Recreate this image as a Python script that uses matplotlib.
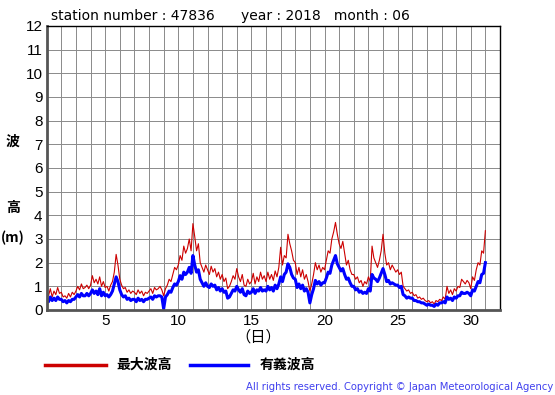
import numpy as np
import matplotlib
matplotlib.use("Agg")
import matplotlib.pyplot as plt
from matplotlib.lines import Line2D

plt.rcParams['font.family'] = ['DejaVu Sans', 'Noto Sans CJK JP']

# 3-hourly values, 8 per day, June 1 .. June 30, plus end point (day 31 00h)
max_wave = [
    0.85, 0.6, 0.9, 0.55, 0.8, 0.65, 0.95, 0.7,      # 1
    0.75, 0.55, 0.6, 0.5, 0.7, 0.55, 0.75, 0.65,     # 2
    0.8, 1.0, 0.85, 1.1, 0.9, 0.95, 1.05, 0.9,       # 3
    1.05, 1.45, 1.15, 1.3, 1.1, 1.4, 1.0, 1.2,       # 4
    0.95, 1.0, 0.8, 1.05, 1.2, 1.6, 2.35, 1.9,       # 5
    1.3, 1.05, 0.9, 0.95, 0.75, 0.85, 0.7, 0.8,      # 6
    0.75, 0.65, 0.85, 0.7, 0.8, 0.6, 0.75, 0.7,      # 7
    0.8, 0.9, 0.7, 0.95, 0.85, 0.9, 1.0, 0.85,       # 8
    0.6, 0.9, 1.05, 1.3, 1.2, 1.5, 1.8, 1.7,         # 9
    1.9, 2.3, 2.1, 2.7, 2.4, 2.6, 3.0, 2.5,          # 10
    3.65, 3.1, 2.5, 2.8, 2.0, 1.8, 1.6, 1.9,         # 11
    1.7, 1.5, 1.85, 1.6, 1.75, 1.4, 1.6, 1.3,        # 12
    1.5, 1.2, 1.35, 0.9, 1.0, 1.2, 1.45, 1.3,        # 13
    1.75, 1.4, 1.2, 1.5, 1.05, 1.0, 1.3, 1.1,        # 14
    1.2, 1.55, 1.1, 1.4, 1.2, 1.6, 1.3, 1.45,        # 15
    1.2, 1.6, 1.3, 1.5, 1.25, 1.65, 1.4, 1.8,        # 16
    2.65, 1.9, 2.3, 2.2, 3.2, 2.8, 2.5, 2.1,         # 17
    2.0, 1.5, 1.8, 1.4, 1.7, 1.3, 1.5, 1.2,          # 18
    0.8, 1.1, 1.5, 2.0, 1.7, 1.9, 1.6, 1.8,          # 19
    1.7, 2.1, 2.5, 2.4, 3.0, 3.3, 3.7, 3.2,          # 20
    2.8, 2.6, 2.9, 2.4, 1.9, 2.1, 1.7, 1.5,          # 21
    1.5, 1.3, 1.4, 1.15, 1.25, 1.0, 1.2, 1.1,        # 22
    1.4, 1.2, 2.7, 2.2, 2.0, 1.8, 2.1, 2.5,          # 23
    3.2, 2.4, 1.9, 2.0, 1.7, 1.9, 1.75, 1.6,         # 24
    1.7, 1.5, 1.6, 1.0, 0.9, 0.8, 0.85, 0.7,         # 25
    0.75, 0.6, 0.65, 0.5, 0.55, 0.45, 0.5, 0.4,      # 26
    0.35, 0.4, 0.3, 0.35, 0.25, 0.4, 0.35, 0.45,     # 27
    0.4, 0.55, 0.45, 1.0, 0.7, 0.85, 0.65, 0.9,      # 28
    0.8, 1.0, 0.95, 1.3, 1.2, 1.1, 1.25, 1.15,       # 29
    0.9, 1.4, 1.25, 1.7, 2.0, 1.9, 2.5, 2.4,         # 30
    3.35,
]
sig_wave = [
    0.5, 0.35, 0.55, 0.4, 0.5, 0.4, 0.55, 0.45,
    0.45, 0.35, 0.4, 0.3, 0.4, 0.35, 0.45, 0.45,
    0.55, 0.65, 0.55, 0.7, 0.6, 0.6, 0.7, 0.6,
    0.7, 0.85, 0.7, 0.8, 0.65, 0.9, 0.6, 0.75,
    0.6, 0.65, 0.55, 0.65, 0.8, 1.1, 1.4, 1.2,
    0.85, 0.65, 0.55, 0.6, 0.45, 0.5, 0.4, 0.45,
    0.45, 0.35, 0.5, 0.4, 0.45, 0.35, 0.45, 0.45,
    0.5, 0.55, 0.45, 0.6, 0.55, 0.6, 0.6, 0.55,
    0.05, 0.55, 0.65, 0.8, 0.75, 0.95, 1.1, 1.05,
    1.2, 1.45, 1.3, 1.6, 1.5, 1.6, 1.8, 1.55,
    2.3, 1.9, 1.6, 1.7, 1.3, 1.15, 1.0, 1.15,
    1.0, 0.95, 1.1, 1.0, 1.05, 0.85, 0.95, 0.8,
    0.9, 0.75, 0.8, 0.5, 0.55, 0.7, 0.85, 0.8,
    1.0, 0.85, 0.75, 0.9, 0.65, 0.6, 0.8, 0.7,
    0.75, 0.9, 0.7, 0.85, 0.8, 0.95, 0.8, 0.85,
    0.8, 1.0, 0.85, 0.95, 0.8, 1.05, 0.9, 1.1,
    1.4, 1.2, 1.5, 1.6, 1.95, 1.8, 1.5, 1.35,
    1.3, 0.95, 1.1, 0.9, 1.05, 0.8, 0.9, 0.75,
    0.3, 0.65, 0.9, 1.25, 1.1, 1.2, 1.05, 1.15,
    1.15, 1.35, 1.6, 1.55, 1.9, 2.1, 2.3, 1.95,
    1.8, 1.65, 1.75, 1.5, 1.3, 1.35, 1.15, 1.0,
    1.0, 0.85, 0.9, 0.75, 0.8, 0.7, 0.75, 0.7,
    0.9, 0.8, 1.5, 1.35, 1.3, 1.2, 1.35, 1.55,
    1.75, 1.5, 1.2, 1.25, 1.1, 1.15, 1.1, 1.05,
    1.05, 0.95, 1.0, 0.65, 0.6, 0.5, 0.55, 0.5,
    0.5, 0.4, 0.4, 0.35, 0.35, 0.3, 0.3, 0.25,
    0.2, 0.25, 0.2, 0.2, 0.15, 0.25, 0.2, 0.3,
    0.3, 0.35, 0.3, 0.55, 0.45, 0.5, 0.4, 0.55,
    0.5, 0.6, 0.6, 0.75, 0.7, 0.7, 0.75, 0.7,
    0.6, 0.85, 0.8, 1.0, 1.2, 1.15, 1.5, 1.55,
    2.0,
]
days = 1 + np.arange(len(max_wave)) / 8.0

x_ticks = [5, 10, 15, 20, 25, 30]
y_ticks = list(range(0, 13))

fig = plt.figure(figsize=(5.55, 3.95), dpi=100)
ax = fig.add_axes([0.0841, 0.2152, 0.8168, 0.7190])

ax.plot(days, max_wave, color="#cc0000", lw=0.8)
ax.plot(days, sig_wave, color="#0000ff", lw=2.2)

ax.set_xlim(1, 32)
ax.set_ylim(0, 12)
ax.set_xticks(np.arange(1, 33), minor=True)
ax.set_xticks(x_ticks)
ax.set_yticks(y_ticks)
ax.grid(True, which="both", color="#8a8a8a", lw=0.7)
ax.set_axisbelow(True)
ax.tick_params(which="both", length=0, labelsize=11, pad=3)
for lab in ax.get_xticklabels() + ax.get_yticklabels():
    lab.set_family("Liberation Sans")
for s in ax.spines.values():
    s.set_color("black")
    s.set_linewidth(1.0)
ax.spines["left"].set_color("#555555")
ax.spines["left"].set_linewidth(2)
ax.spines["bottom"].set_color("#555555")
ax.spines["bottom"].set_linewidth(2)

fig.text(51 / 555, 1 - 16 / 395,
         "station number : 47836      year : 2018   month : 06",
         fontsize=10, va="center", ha="left")

cjk = ['Noto Sans CJK JP', 'DejaVu Sans']
fig.text(13 / 555, 1 - 142 / 395, "波", family=cjk, fontsize=10,
         fontweight="bold", ha="center", va="center")
fig.text(13 / 555, 1 - 208 / 395, "高", family=cjk, fontsize=10,
         fontweight="bold", ha="center", va="center")
fig.text(13 / 555, 1 - 238 / 395, "(m)", family=cjk, fontsize=10,
         fontweight="bold", ha="center", va="center")
fig.text(258 / 555, 1 - 337 / 395, "（日）", family=cjk, fontsize=11,
         ha="center", va="center")

# legend drawn in figure coords
fig.add_artist(Line2D([45 / 555, 106 / 555], [1 - 365 / 395] * 2,
                      color="#cc0000", lw=2.5, transform=fig.transFigure))
fig.text(116 / 555, 1 - 365 / 395, "最大波高", family=cjk, fontsize=10,
         fontweight="bold", ha="left", va="center")
fig.add_artist(Line2D([190 / 555, 248 / 555], [1 - 365 / 395] * 2,
                      color="#0000ff", lw=2.5, transform=fig.transFigure))
fig.text(260 / 555, 1 - 365 / 395, "有義波高", family=cjk, fontsize=10,
         fontweight="bold", ha="left", va="center")

fig.text(553 / 555, 1 - 387 / 395,
         "All rights reserved. Copyright © Japan Meteorological Agency",
         fontsize=7.2, color="#4040ee", ha="right", va="center")

fig.savefig("out.png", dpi=100)
